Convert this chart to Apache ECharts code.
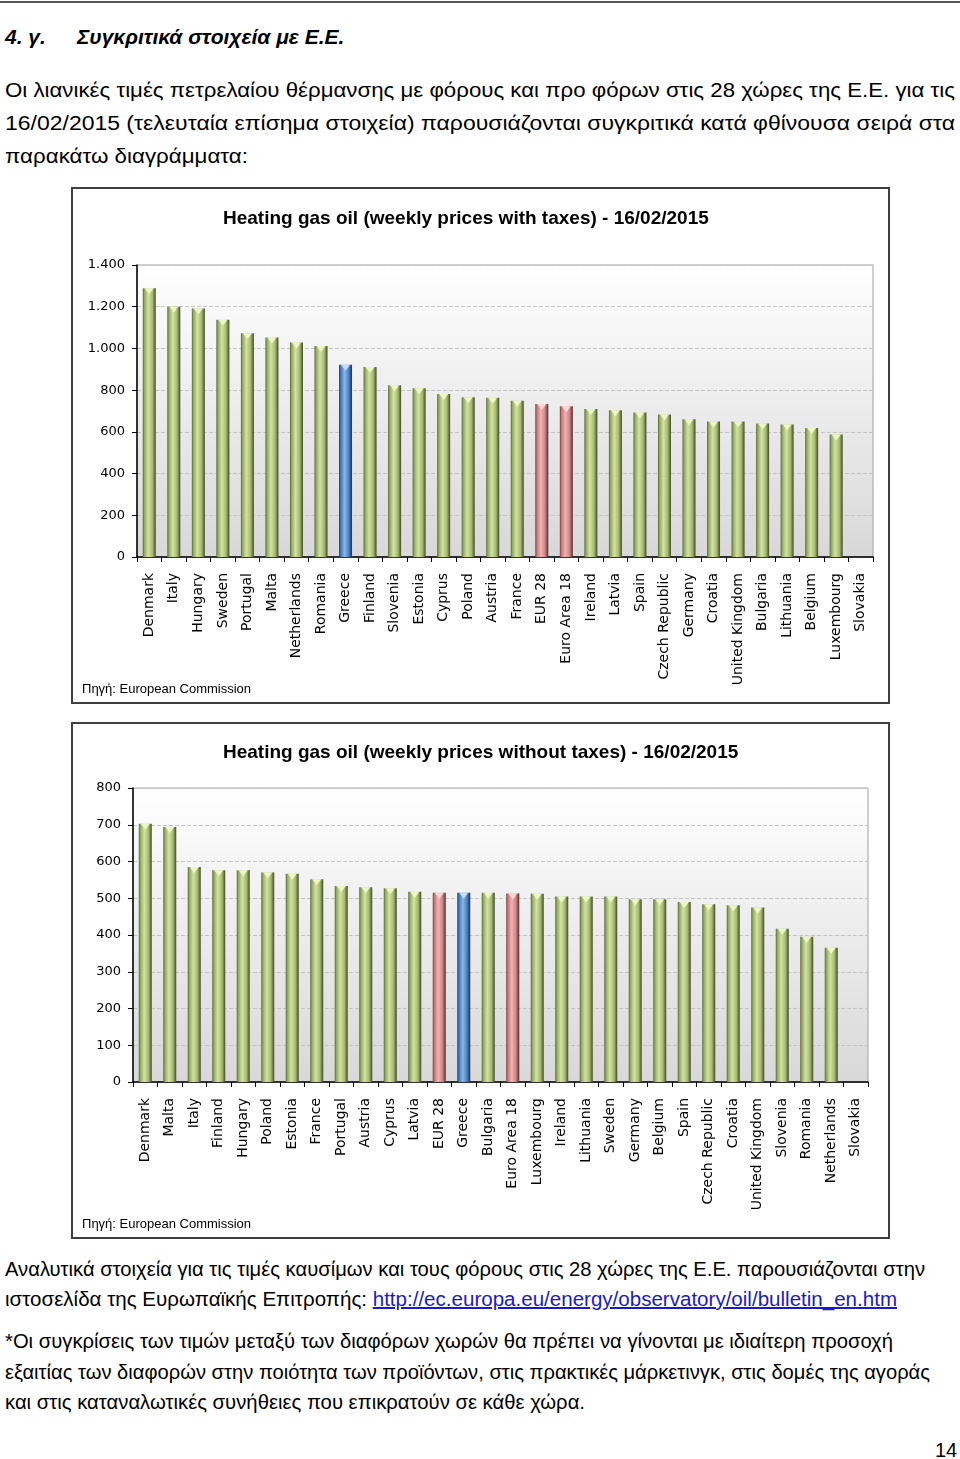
<!DOCTYPE html>
<html>
<head>
<meta charset="utf-8">
<script src="https://cdn.jsdelivr.net/npm/echarts@6/dist/echarts.min.js"></script>
<style>
  html, body { margin:0; padding:0; background:#fff; }
  body { width:960px; height:1459px; position:relative; overflow:hidden;
         font-family:"Liberation Sans",Arial,sans-serif; color:#000; }
  .ln { position:absolute; white-space:nowrap; font-size:20px; line-height:30px; height:30px; transform-origin:0 0; }
  .box { position:absolute; box-sizing:border-box; border:2px solid #3f3f3f; background:#fff; }
  a { color:#1a1acc; text-decoration:underline; }
</style>
</head>
<body>
<div style="position:absolute;left:0;top:1px;width:960px;height:0;border-top:2px solid #555;"></div>

<div class="ln" style="left:5px;top:22px;font-weight:bold;font-style:italic;font-size:21px;">4. γ.<span style="display:inline-block;width:31px"></span>Συγκριτικά στοιχεία με Ε.Ε.</div>

<div class="ln fit" data-w="950" style="left:5px;top:75px;">Οι λιανικές τιμές πετρελαίου θέρμανσης με φόρους και προ φόρων στις 28 χώρες της Ε.Ε. για τις</div>
<div class="ln fit" data-w="950" style="left:5px;top:108px;">16/02/2015 (τελευταία επίσημα στοιχεία) παρουσιάζονται συγκριτικά κατά φθίνουσα σειρά στα</div>
<div class="ln fit" data-w="243" style="left:5px;top:141px;">παρακάτω διαγράμματα:</div>

<div id="c1" class="box" style="left:71px;top:187px;width:819px;height:517px;"></div>
<div id="c2" class="box" style="left:71px;top:722px;width:819px;height:517px;"></div>

<div class="ln fit" data-w="920" style="left:5px;top:1254px;">Αναλυτικά στοιχεία για τις τιμές καυσίμων και τους φόρους στις 28 χώρες της Ε.Ε. παρουσιάζονται στην</div>
<div class="ln fit" data-w="892" style="left:5px;top:1284px;">ιστοσελίδα της Ευρωπαϊκής Επιτροπής: <a>http://ec.europa.eu/energy/observatory/oil/bulletin_en.htm</a></div>
<div class="ln fit" data-w="888" style="left:5px;top:1326px;">*Οι συγκρίσεις των τιμών μεταξύ των διαφόρων χωρών θα πρέπει να γίνονται με ιδιαίτερη προσοχή</div>
<div class="ln fit" data-w="925" style="left:5px;top:1357px;">εξαιτίας των διαφορών στην ποιότητα των προϊόντων, στις πρακτικές μάρκετινγκ, στις δομές της αγοράς</div>
<div class="ln fit" data-w="580" style="left:5px;top:1387px;">και στις καταναλωτικές συνήθειες που επικρατούν σε κάθε χώρα.</div>

<div class="ln" style="left:935px;top:1435px;">14</div>

<script>
// ---------- data ----------
const title1 = 'Heating gas oil (weekly prices with taxes) - 16/02/2015';
const cats1 = ['Denmark','Italy','Hungary','Sweden','Portugal','Malta','Netherlands','Romania','Greece','Finland','Slovenia','Estonia','Cyprus','Poland','Austria','France','EUR 28','Euro Area 18','Ireland','Latvia','Spain','Czech Republic','Germany','Croatia','United Kingdom','Bulgaria','Lithuania','Belgium','Luxembourg','Slovakia'];
const vals1 = [1288,1200,1191,1138,1073,1052,1029,1012,922,911,824,809,782,766,764,749,734,723,709,704,693,683,661,650,650,640,635,618,587,null];
const ticks1 = [0,200,400,600,800,1000,1200,1400];

const title2 = 'Heating gas oil (weekly prices without taxes) - 16/02/2015';
const cats2 = ['Denmark','Malta','Italy','Finland','Hungary','Poland','Estonia','France','Portugal','Austria','Cyprus','Latvia','EUR 28','Greece','Bulgaria','Euro Area 18','Luxembourg','Ireland','Lithuania','Sweden','Germany','Belgium','Spain','Czech Republic','Croatia','United Kingdom','Slovenia','Romania','Netherlands','Slovakia'];
const vals2 = [703,694,585,576,576,570,567,552,533,530,527,518,515,515,515,513,512,505,505,505,497,497,490,484,481,475,417,395,365,null];
const ticks2 = [0,100,200,300,400,500,600,700,800];

const blueCats = ['Greece'];
const redCats = ['EUR 28','Euro Area 18'];
const sourceText = 'Πηγή: European Commission';

// fit text lines to the reference widths
document.querySelectorAll('.fit').forEach(el => {
  const w = +el.dataset.w, n = el.getBoundingClientRect().width;
  if (n > 0) el.style.transform = 'scaleX(' + (w / n) + ')';
});

// ---------- styles ----------
function grad(c) {
  return new echarts.graphic.LinearGradient(0,0,1,0,[
    {offset:0, color:c[0]},{offset:0.12, color:c[1]},{offset:0.42, color:c[2]},
    {offset:0.75, color:c[3]},{offset:1, color:c[4]}]);
}
const GREEN = ['#55623a','#93a75f','#d4e2a4','#a4b96e','#3f4a26'];
const RED   = ['#733838','#c47676','#f0b4b4','#cc8585','#582828'];
const BLUE  = ['#1b3b68','#3e73b8','#8db6e6','#4a80c6','#14305c'];
const CAP = {green:'#eef5c8', red:'#fbd6d6', blue:'#c5dcf6'};

function kind(c){ return blueCats.includes(c)?'blue':(redCats.includes(c)?'red':'green'); }
function fmt(v){ return v>=1000 ? String(v).replace(/(\d)(\d{3})$/,'$1.$2') : String(v); }

function build(title, cats, vals, ticks, g) {
  const step = ticks[1]-ticks[0];
  return {
    animation:false,
    title:{ text:title, left:g.titleLeft, top:g.titleTop, padding:0,
      textStyle:{ fontFamily:'"Liberation Sans",Arial,sans-serif', fontSize:19, fontWeight:'bold', color:'#000'} },
    graphic:[{ type:'text', left:9, top:g.srcTop,
      style:{ text:sourceText, fill:'#000', font:'13px "Liberation Sans",Arial,sans-serif'} }],
    grid:{ left:g.left, top:g.top, width:g.width, height:g.height, show:true,
      backgroundColor:new echarts.graphic.LinearGradient(0,0,0,1,[{offset:0,color:'#ffffff'},{offset:1,color:'#d8d8d8'}]),
      borderColor:'#a0a0a0', borderWidth:1 },
    xAxis:{ type:'category', data:cats, boundaryGap:true,
      axisLine:{ lineStyle:{color:'#000', width:1.5} },
      axisTick:{ show:true, length:5, lineStyle:{color:'#000'} },
      axisLabel:{ interval:0, rotate:90, margin:16, fontSize:14, fontFamily:'DejaVu Sans', color:'#000' } },
    yAxis:{ type:'value', min:ticks[0], max:ticks[ticks.length-1], interval:step,
      axisLine:{ show:true, lineStyle:{color:'#000', width:1.5} },
      axisTick:{ show:true, length:5, inside:false, lineStyle:{color:'#000'} },
      axisLabel:{ formatter:fmt, margin:12, fontSize:13, fontFamily:'DejaVu Sans', color:'#000' },
      splitLine:{ show:true, lineStyle:{ color:'#c4c4c4', type:'dashed', width:1 } } },
    series:[
      { type:'bar', barWidth:13, z:2,
        data: vals.map((v,i)=>({ value:v, itemStyle:{ color:grad(kind(cats[i])==='blue'?BLUE:kind(cats[i])==='red'?RED:GREEN) } })) },
      { type:'pictorialBar', z:3, symbol:'path://M0,0L10,0L5,6Z', symbolSize:[9,6],
        symbolPosition:'end', symbolOffset:[0,0], barWidth:13,
        data: vals.map((v,i)=>({ value:v, itemStyle:{ color:CAP[kind(cats[i])] } })) }
    ]
  };
}

const c1 = echarts.init(document.getElementById('c1'), null, {renderer:'canvas'});
c1.setOption(build(title1, cats1, vals1, ticks1, {left:64, top:76, width:736, height:292, titleLeft:150, titleTop:20, srcTop:494}));
const c2 = echarts.init(document.getElementById('c2'), null, {renderer:'canvas'});
c2.setOption(build(title2, cats2, vals2, ticks2, {left:60, top:64, width:735, height:294, titleLeft:150, titleTop:19, srcTop:494}));
</script>
</body>
</html>
